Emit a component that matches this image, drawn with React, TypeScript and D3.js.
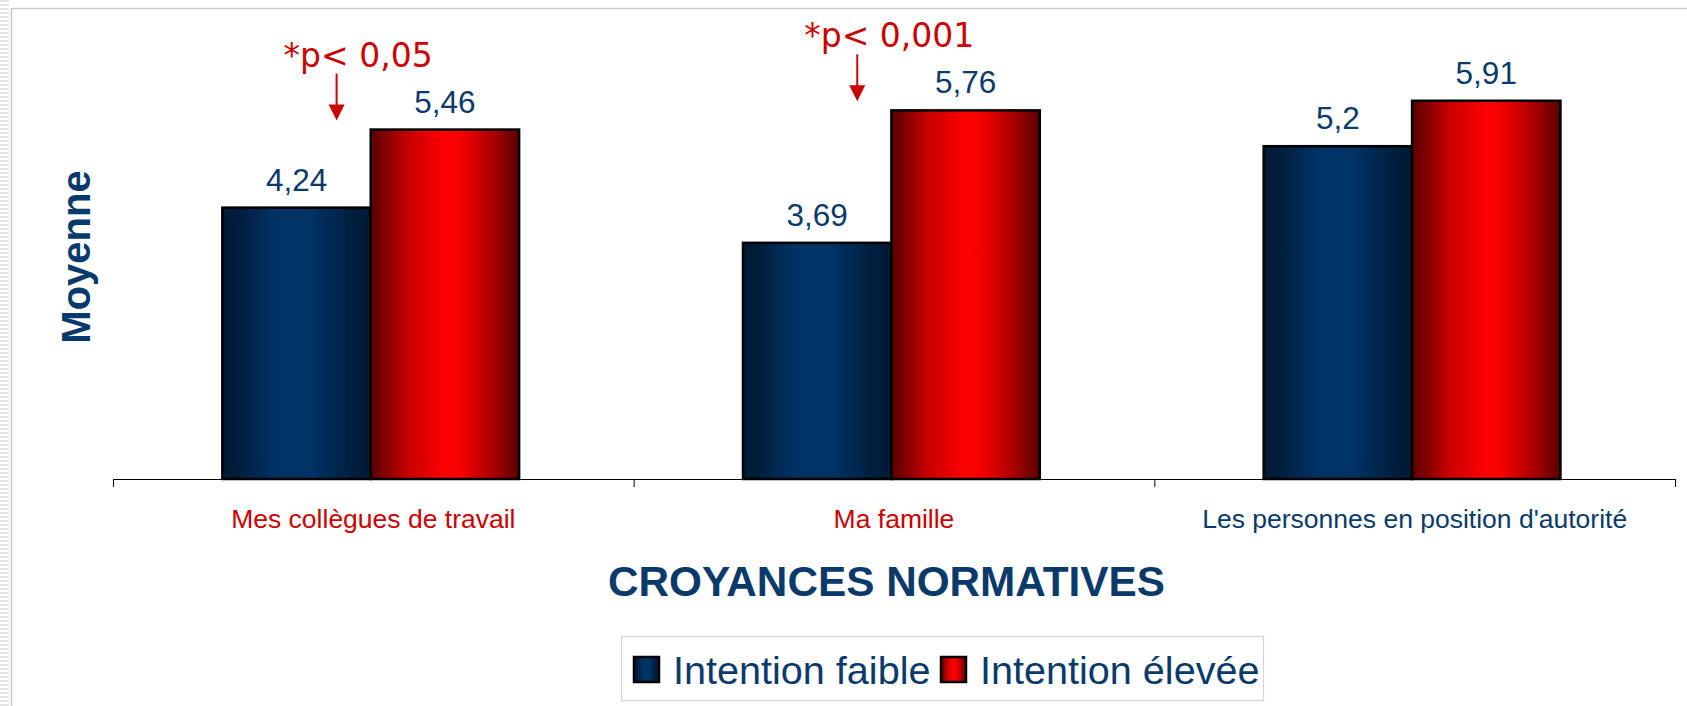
import React from 'react';
import * as d3 from 'd3';

const categories = ["Mes collègues de travail", "Ma famille", "Les personnes en position d'autorité"];
const categoryColors = ["#cc0000", "#cc0000", "#0a3a6b"];
const series = ["Intention faible", "Intention élevée"];
const intentionFaible = [4.24, 3.69, 5.2];
const intentionElevee = [5.46, 5.76, 5.91];
const annotationCategories = ["Mes collègues de travail", "Ma famille"];
const annotationTexts = ["*p< 0,05", "*p< 0,001"];
const yDomain = [0, 7];

const W = 1687;
const H = 706;
const NAVY = '#0a3a6b';
const SANS = 'Liberation Sans, Arial, Helvetica, sans-serif';

export default function App() {
  const x = d3.scaleBand<string>().domain(categories).range([113, 1675]).padding(0);
  const bw = x.bandwidth();
  const xs = d3.scaleBand<string>().domain(series).range([bw * 0.21, bw * 0.78]).padding(0);
  const y = d3.scaleLinear().domain(yDomain).range([479, 31]);
  const baseY = y(0);
  const values = [intentionFaible, intentionElevee];
  const gradIds = ['gBlue', 'gRed'];
  const fmt = (v: number) => String(v).replace('.', ',');

  const ticks = [...categories.map((c) => x(c)!), 1675];

  const legendX = [634, 941];

  return (
    <svg width={W} height={H} style={{ position: 'absolute', left: 0, top: 0, background: '#fff' }}>
      <defs>
        <linearGradient id="gBlue" x1="0" x2="1" y1="0" y2="0">
          <stop offset="0%" stopColor="#001a33" />
          <stop offset="12%" stopColor="#001e3d" />
          <stop offset="35%" stopColor="#003366" />
          <stop offset="60%" stopColor="#003366" />
          <stop offset="88%" stopColor="#001e3d" />
          <stop offset="100%" stopColor="#001a33" />
        </linearGradient>
        <linearGradient id="gRed" x1="0" x2="1" y1="0" y2="0">
          <stop offset="0%" stopColor="#580000" />
          <stop offset="25%" stopColor="#c80000" />
          <stop offset="50%" stopColor="#ff0000" />
          <stop offset="62%" stopColor="#f20000" />
          <stop offset="85%" stopColor="#a00000" />
          <stop offset="100%" stopColor="#580000" />
        </linearGradient>
        <pattern id="stripes" x="0" y="0" width="10" height="4" patternUnits="userSpaceOnUse">
          <rect x="0" y="0" width="10" height="4" fill="#ffffff" />
          <rect x="0" y="0" width="10" height="2" fill="#e4e4e4" />
        </pattern>
      </defs>

      {/* frame */}
      <rect x={0} y={0} width={9} height={H} fill="url(#stripes)" />
      <line x1={11.5} x2={11.5} y1={8} y2={H} stroke="#c8c8c8" strokeWidth={1.5} />
      <line x1={11} x2={W} y1={8.5} y2={8.5} stroke="#c8c8c8" strokeWidth={1.5} />

      {/* axis */}
      <line x1={113} x2={1675} y1={baseY + 0.5} y2={baseY + 0.5} stroke="#000" strokeWidth={1.2} />
      {ticks.map((t, i) => (
        <line key={i} x1={t + 0.5} x2={t + 0.5} y1={baseY} y2={baseY + 8} stroke="#000" strokeWidth={1} />
      ))}

      {/* bars */}
      {categories.map((c, ci) => (
        <g key={c} transform={`translate(${x(c)},0)`}>
          {series.map((s, si) => {
            const v = values[si][ci];
            return (
              <rect key={s} x={xs(s)} y={y(v)} width={xs.bandwidth()} height={baseY - y(v)}
                fill={`url(#${gradIds[si]})`} stroke="#000" strokeWidth={2.5} />
            );
          })}
          {series.map((s, si) => {
            const v = values[si][ci];
            return (
              <text key={s + 'l'} x={xs(s)! + xs.bandwidth() / 2} y={y(v) - 17} textAnchor="middle"
                fontFamily={SANS} fontSize={31.5} fill={NAVY}>{fmt(v)}</text>
            );
          })}
          <text x={bw / 2} y={528} textAnchor="middle" fontFamily={SANS} fontSize={26.5}
            fill={categoryColors[ci]}>{c}</text>
        </g>
      ))}

      {/* annotations */}
      {annotationCategories.map((c, ai) => {
        const ci = categories.indexOf(c);
        const ax = x(c)! + xs(series[0])! + xs.bandwidth() * 0.77;
        const tip = y(intentionElevee[ci]) - 9;
        return (
          <g key={c}>
            <line x1={ax} x2={ax} y1={tip - 47} y2={tip - 14} stroke="#cc0000" strokeWidth={2} />
            <polygon points={`${ax - 8},${tip - 16} ${ax + 8},${tip - 16} ${ax},${tip}`} fill="#cc0000" />
            <text x={ax - 53} y={tip - 54} fontFamily="DejaVu Sans, Verdana, sans-serif" fontSize={33}
              fill="#cc0000">{annotationTexts[ai]}</text>
          </g>
        );
      })}

      {/* y title */}
      <text transform="translate(90,257) rotate(-90)" textAnchor="middle" fontFamily={SANS}
        fontWeight="bold" fontSize={40} fill={NAVY}>Moyenne</text>

      {/* x title */}
      <text x={886.5} y={596} textAnchor="middle" fontFamily={SANS} fontWeight="bold" fontSize={42.3}
        fill={NAVY}>CROYANCES NORMATIVES</text>

      {/* legend */}
      <rect x={621.5} y={636.5} width={642} height={64} fill="#fff" stroke="#d4d4d4" strokeWidth={1.2} />
      {series.map((s, si) => (
        <g key={s}>
          <rect x={legendX[si]} y={657} width={25} height={25} fill={`url(#${gradIds[si]})`} stroke="#000" strokeWidth={2.5} />
          <text x={legendX[si] + 39} y={684} fontFamily={SANS} fontSize={39.6} fill={NAVY}>{s}</text>
        </g>
      ))}
    </svg>
  );
}
